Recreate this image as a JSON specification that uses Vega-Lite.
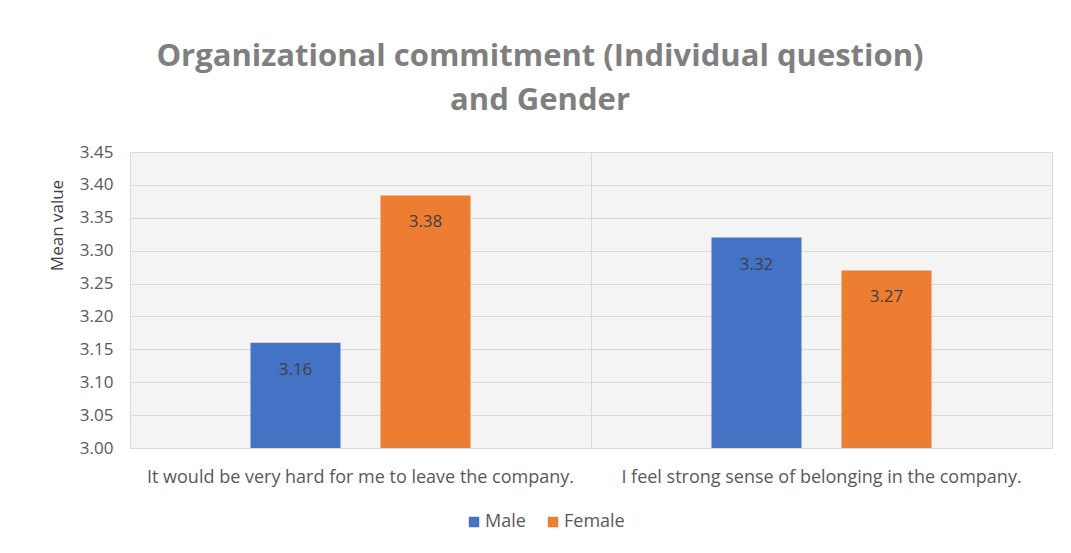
{
  "$schema": "https://vega.github.io/schema/vega-lite/v6.json",
  "width": 922,
  "height": 296,
  "autosize": {"type": "none"},
  "padding": {"left": 130, "top": 152, "right": 19, "bottom": 105},
  "background": "white",
  "title": {
    "text": ["Organizational commitment (Individual question)", "and Gender"],
    "anchor": "middle",
    "dx": -51,
    "offset": 26,
    "font": "Open Sans",
    "fontSize": 31,
    "fontWeight": "bold",
    "color": "#7f7f7f",
    "lineHeight": 44
  },
  "data": {
    "values": [
      {"question": "It would be very hard for me to leave the company.", "gender": "Male", "value": 3.16},
      {"question": "It would be very hard for me to leave the company.", "gender": "Female", "value": 3.384},
      {"question": "I feel strong sense of belonging in the company.", "gender": "Male", "value": 3.32},
      {"question": "I feel strong sense of belonging in the company.", "gender": "Female", "value": 3.27}
    ]
  },
  "config": {
    "view": {"fill": "#f4f4f4", "stroke": "#d9d9d9", "strokeWidth": 1},
    "axis": {"labelFont": "Open Sans", "titleFont": "Open Sans"},
    "legend": {"labelFont": "Open Sans"}
  },
  "encoding": {
    "x": {
      "field": "question",
      "type": "nominal",
      "sort": null,
      "scale": {"paddingInner": 0, "paddingOuter": 0},
      "axis": {
        "title": null,
        "labelAngle": 0,
        "labelFontSize": 18,
        "labelLimit": 0,
        "labelColor": "#595959",
        "labelPadding": 20,
        "ticks": false,
        "domain": false,
        "grid": true,
        "gridColor": "#d9d9d9",
        "bandPosition": 0
      }
    },
    "xOffset": {
      "field": "gender",
      "type": "nominal",
      "sort": ["Male", "Female"],
      "scale": {"paddingInner": 0.3077, "paddingOuter": 0.927}
    },
    "y": {
      "field": "value",
      "type": "quantitative",
      "scale": {"domain": [3.0, 3.45], "zero": false},
      "axis": {
        "values": [3.0, 3.05, 3.1, 3.15, 3.2, 3.25, 3.3, 3.35, 3.4, 3.45],
        "format": ".2f",
        "title": "Mean value",
        "titleFontSize": 17,
        "titleFontWeight": "normal",
        "titleColor": "#404040",
        "titleX": -73,
        "titleY": 73,
        "titleAngle": -90,
        "titleAlign": "center",
        "titleBaseline": "middle",
        "labelFontSize": 17,
        "labelColor": "#595959",
        "labelPadding": 17,
        "ticks": false,
        "domain": false,
        "grid": true,
        "gridColor": "#d9d9d9"
      }
    }
  },
  "layer": [
    {
      "mark": {"type": "bar", "clip": true},
      "encoding": {
        "color": {
          "field": "gender",
          "type": "nominal",
          "sort": ["Male", "Female"],
          "scale": {"domain": ["Male", "Female"], "range": ["#4472c4", "#ed7d31"]},
          "legend": {
            "title": null,
            "orient": "none",
            "direction": "horizontal",
            "legendX": 335,
            "legendY": 361,
            "symbolType": "square",
            "symbolSize": 110,
            "symbolStrokeWidth": 0,
            "labelFontSize": 18,
            "labelColor": "#595959",
            "labelOffset": 2,
            "columnPadding": 18
          }
        }
      }
    },
    {
      "mark": {"type": "text", "baseline": "middle", "dy": 27, "fontSize": 17, "font": "Open Sans", "color": "#404040"},
      "encoding": {
        "text": {"field": "value", "type": "quantitative", "format": ".2f"}
      }
    }
  ]
}
